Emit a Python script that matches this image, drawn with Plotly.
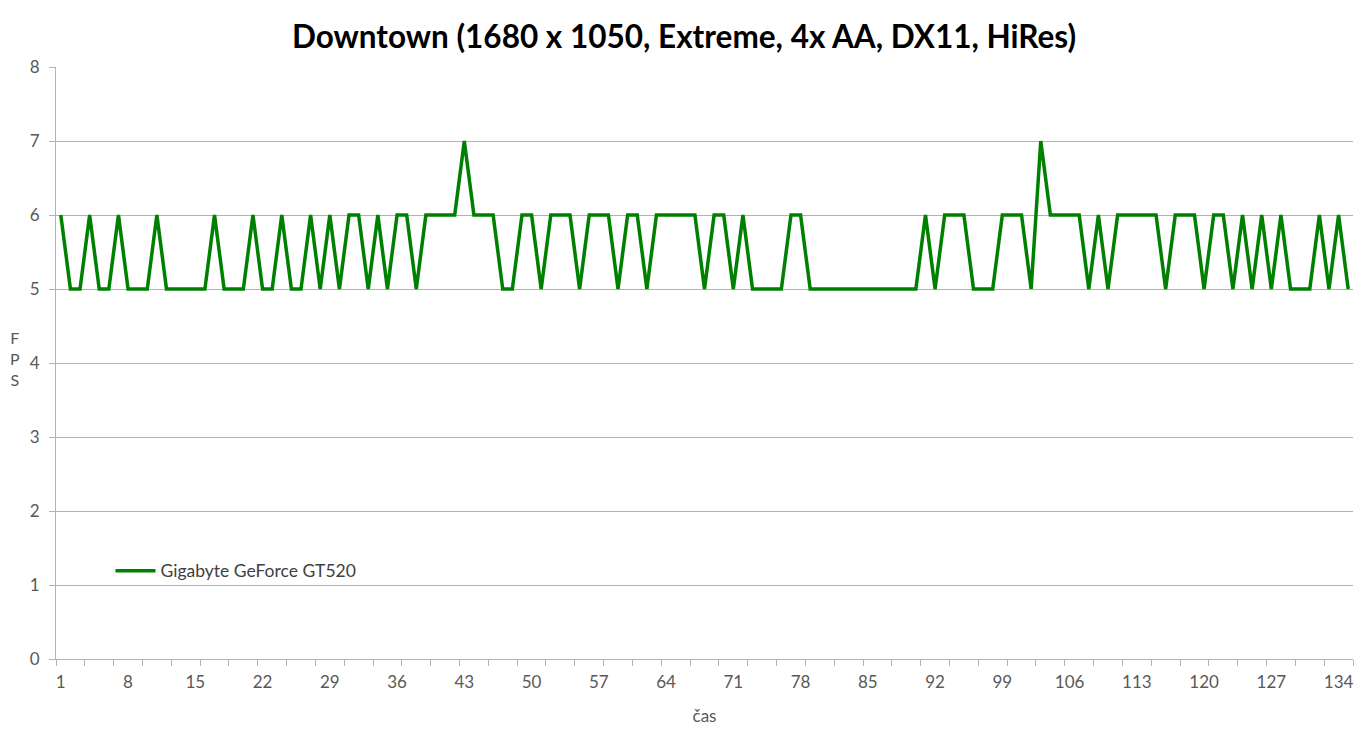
import plotly.graph_objects as go

# Data
cas = list(range(1, 136))
fps_gt520 = [
    6, 5, 5, 6, 5, 5, 6, 5, 5, 5,
    6, 5, 5, 5, 5, 5, 6, 5, 5, 5,
    6, 5, 5, 6, 5, 5, 6, 5, 6, 5,
    6, 6, 5, 6, 5, 6, 6, 5, 6, 6,
    6, 6, 7, 6, 6, 6, 5, 5, 6, 6,
    5, 6, 6, 6, 5, 6, 6, 6, 5, 6,
    6, 5, 6, 6, 6, 6, 6, 5, 6, 6,
    5, 6, 5, 5, 5, 5, 6, 6, 5, 5,
    5, 5, 5, 5, 5, 5, 5, 5, 5, 5,
    6, 5, 6, 6, 6, 5, 5, 5, 6, 6,
    6, 5, 7, 6, 6, 6, 6, 5, 6, 5,
    6, 6, 6, 6, 6, 5, 6, 6, 6, 5,
    6, 6, 5, 6, 5, 6, 5, 6, 5, 5,
    5, 6, 5, 6, 5,
]
x_ticks = list(range(1, 136, 7))

FONT = "Lato, 'Open Sans', sans-serif"
GRID = "#b3b3b3"
TEXT = "#595959"

fig = go.Figure()
fig.add_trace(go.Scatter(
    x=cas, y=fps_gt520,
    mode="lines",
    name="Gigabyte GeForce GT520",
    line=dict(color="#008000", width=3.5),
))

# page body has an 8px margin, so the figure is a bit smaller than the window
fig.update_layout(
    width=1363, height=728,
    margin=dict(l=48, r=18, t=59, b=77),
    paper_bgcolor="white",
    plot_bgcolor="white",
    font=dict(family=FONT, size=17, color=TEXT),
    title=dict(
        text="<b>Downtown (1680 x 1050, Extreme, 4x AA, DX11, HiRes)</b>",
        x=0.496, xanchor="center", y=0.960, yanchor="middle",
        font=dict(family=FONT, size=31.5, color="black"),
    ),
    showlegend=True,
    legend=dict(
        x=0.042, y=0.149, xanchor="left", yanchor="middle",
        bgcolor="rgba(0,0,0,0)",
        font=dict(family=FONT, size=17.5, color="#404040"),
        itemwidth=40,
    ),
)

fig.update_xaxes(
    range=[0.5, 135.5],
    tickmode="array", tickvals=x_ticks,
    ticks="", showgrid=False,
    showline=True, linecolor=GRID, linewidth=1,
    tickfont=dict(size=17, color=TEXT),
    ticklabelstandoff=8,
    minor=dict(tick0=0.5, dtick=3, ticks="outside", ticklen=6,
               tickcolor=GRID, showgrid=False),
    title=dict(text="čas", font=dict(size=17, color=TEXT), standoff=18),
    zeroline=False,
)
fig.update_yaxes(
    range=[0, 8], dtick=1,
    showgrid=True, gridcolor=GRID, gridwidth=1,
    showline=True, linecolor=GRID, linewidth=1,
    ticks="outside", ticklen=6, tickcolor=GRID,
    tickfont=dict(size=17, color=TEXT),
    ticklabelstandoff=6,
    zeroline=False,
)

# vertical stacked y-axis title
fig.add_annotation(
    text="F<br>P<br>S", xref="paper", yref="paper",
    x=-0.0368, y=0.507, xanchor="left", yanchor="middle",
    showarrow=False, align="center",
    font=dict(family=FONT, size=16, color=TEXT),
)

fig.write_html("out.html")
